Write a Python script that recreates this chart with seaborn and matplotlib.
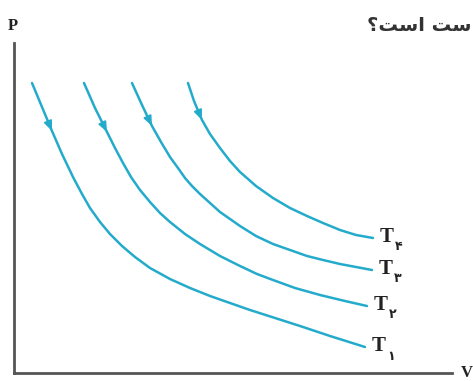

# P-V ISOTHERMS CHART

import pandas as pd
import numpy as np
import matplotlib
matplotlib.use("Agg")
import matplotlib.pyplot as plt
import seaborn as sns

# DATA (arbitrary units)

v_t1 = [18, 28, 38, 48, 59, 68, 76, 86, 96, 108, 121, 136, 156, 176, 196, 216, 236, 261, 286, 316, 351]
p_t1 = [290, 266, 242, 219, 196, 179, 165, 151, 139, 127, 116, 105, 94, 85, 77, 70, 63, 55, 47, 37, 26]

v_t2 = [70, 81, 93, 101, 109, 117, 126, 136, 146, 156, 171, 186, 206, 226, 243, 259, 281, 306, 331, 353]
p_t2 = [290, 265, 241, 225, 210, 196, 183, 171, 160, 151, 139, 129, 117, 107, 99, 93, 85, 78, 72, 67]

v_t3 = [118, 128, 138, 147, 156, 164, 171, 178, 186, 196, 206, 216, 226, 242, 259, 276, 293, 309, 326, 342, 358]
p_t3 = [290, 268, 247, 231, 216, 205, 195, 187, 179, 170, 161, 154, 147, 137, 129, 123, 117, 113, 109, 106, 103]

v_t4 = [174, 180, 188, 196, 206, 216, 226, 242, 259, 276, 293, 309, 326, 342, 359]
p_t4 = [290, 272, 253, 239, 225, 212, 201, 187, 175, 165, 157, 150, 143, 138, 135]

curve_names = ["T1", "T2", "T3", "T4"]
subscripts = ["\u06f1", "\u06f2", "\u06f3", "\u06f4"]
# "ست است؟" written in shaped glyphs, left-to-right visual order
question_text = "\u061f\uFE96\uFEB3\uFE8D \uFE96\uFEB3"

# BUILD LONG TABLE

frames = []
for name, v, p in zip(curve_names, [v_t1, v_t2, v_t3, v_t4], [p_t1, p_t2, p_t3, p_t4]):
    frames.append(pd.DataFrame({"V": v, "P": p, "curve": name}))
df = pd.concat(frames, ignore_index=True)

# PLOT

sns.set_style("white")
line_color = "#24abcb"
axis_color = "#555555"

fig = plt.figure(figsize=(4.73, 3.81), dpi=100)
ax = fig.add_axes([14 / 473, 8 / 381, 438 / 473, 330 / 381])

sns.lineplot(
    data=df,
    x="V",
    y="P",
    hue="curve",
    palette=[line_color] * 4,
    sort=False,
    estimator=None,
    linewidth=1.8,
    legend=False,
    ax=ax
)
for line in ax.lines:
    line.set_solid_joinstyle("round")
    line.set_solid_capstyle("round")

ax.set_xlim(0, 438)
ax.set_ylim(0, 330)
ax.set_xticks([])
ax.set_yticks([])
ax.set_xlabel("")
ax.set_ylabel("")
for side in ["top", "right"]:
    ax.spines[side].set_visible(False)
for side in ["left", "bottom"]:
    ax.spines[side].set_color(axis_color)
    ax.spines[side].set_linewidth(2)

# DIRECTION ARROWS AND LABELS

for name, sub in zip(curve_names, subscripts):
    pts = df[df["curve"] == name]
    x0, y0 = pts["V"].iloc[1], pts["P"].iloc[1]
    x1, y1 = pts["V"].iloc[2], pts["P"].iloc[2]
    ax.annotate(
        "",
        xy=(x1, y1),
        xytext=(x1 - 0.4 * (x1 - x0), y1 - 0.4 * (y1 - y0)),
        arrowprops=dict(arrowstyle="-|>,head_length=0.6,head_width=0.25",
                        color=line_color, lw=1.2, shrinkA=0, shrinkB=0)
    )
    xe, ye = pts["V"].iloc[-1], pts["P"].iloc[-1]
    ax.annotate(
        "T", xy=(xe, ye), xytext=(7, 1), textcoords="offset pixels",
        ha="left", va="center", fontsize=15, fontweight="bold",
        family=["Liberation Serif", "DejaVu Sans"], color="#222222",
        annotation_clip=False
    )
    ax.annotate(
        sub, xy=(xe, ye), xytext=(22, -9), textcoords="offset pixels",
        ha="left", va="center", fontsize=9, fontweight="bold",
        family=["DejaVu Sans"], color="#222222",
        annotation_clip=False
    )

# AXIS LETTERS AND TOP TEXT

fig.text(13 / 473, 1 - 26 / 381, "P", ha="center", va="center",
         fontsize=12, fontweight="bold", family=["Liberation Serif"], color="#222222")
fig.text(461 / 473, 1 - 373 / 381, "V", ha="left", va="center",
         fontsize=12, fontweight="bold", family=["Liberation Serif"], color="#222222")
fig.text(471 / 473, 1 - 31 / 381, question_text, ha="right", va="baseline",
         fontsize=14, fontweight="bold", family=["DejaVu Sans"], color="#333333")

fig.savefig("out.png", dpi=100, facecolor="white")
